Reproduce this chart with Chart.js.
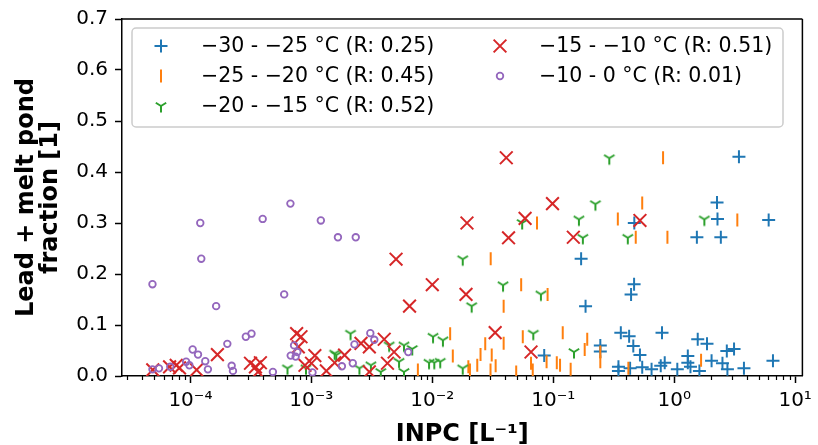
<!DOCTYPE html>
<html>
<head>
<meta charset="utf-8">
<script src="https://cdn.jsdelivr.net/npm/chart.js@4.4.1/dist/chart.umd.min.js"></script>
<style>
  html, body { margin: 0; padding: 0; background: #fff; }
  #wrap { width: 818px; height: 445px; }
</style>
</head>
<body>
<div id="wrap"><canvas id="chart"></canvas></div>
<script>
// series labels
const labels = [
  "\u221230 - \u221225 \u00b0C (R: 0.25)",
  "\u221225 - \u221220 \u00b0C (R: 0.45)",
  "\u221220 - \u221215 \u00b0C (R: 0.52)",
  "\u221215 - \u221210 \u00b0C (R: 0.51)",
  "\u221210 - 0 \u00b0C (R: 0.01)"
];
const colors = ["#1f77b4", "#ff7f0e", "#2ca02c", "#d62728", "#9467bd"];

// x tick labels (decades)
const xTickValues = [1e-4, 1e-3, 1e-2, 1e-1, 1, 10];
const xTickLabels = ["10\u207b\u2074", "10\u207b\u00b3", "10\u207b\u00b2", "10\u207b\u00b9", "10\u2070", "10\u00b9"];

// -30 to -25 C
const blueX = [3.43, 2.26, 2.28, 6.04, 1.54, 2.43, 0.170, 0.466, 0.440, 0.185, 0.468, 0.0842,
  0.362, 0.424, 0.459, 0.521, 0.793, 1.565, 1.867, 2.723, 3.125, 0.245, 0.245, 1.296,
  0.346, 0.346, 0.432, 0.544, 0.650, 0.774, 0.835, 1.061, 1.296, 1.363, 1.616, 2.037,
  2.506, 2.754, 3.773, 6.555];
const blueY = [0.430, 0.340, 0.308, 0.306, 0.272, 0.272, 0.230, 0.180, 0.160, 0.137, 0.300, 0.040,
  0.085, 0.078, 0.059, 0.041, 0.085, 0.072, 0.063, 0.049, 0.053, 0.060, 0.048, 0.039,
  0.018, 0.010, 0.015, 0.017, 0.013, 0.020, 0.026, 0.013, 0.026, 0.018, 0.010, 0.030,
  0.025, 0.013, 0.015, 0.030];

// -25 to -20 C
const orangeX = [0.01405, 0.01478, 0.0304, 0.0389, 0.0543, 0.0734, 0.0898, 0.0560, 0.0389, 0.0274,
  0.02505, 0.0310, 0.02354, 0.01987, 0.02048, 0.0303, 0.0334, 0.0076, 0.0494, 0.0655,
  0.0677, 0.0881, 0.1070, 0.1138, 0.1198, 0.1393, 0.809, 0.544, 0.342, 0.481,
  0.879, 3.326, 0.191, 0.182, 0.245, 0.245, 0.418, 1.668];
const orangeY = [0.083, 0.039, 0.230, 0.137, 0.179, 0.300, 0.160, 0.077, 0.064, 0.063,
  0.042, 0.041, 0.021, 0.018, 0.012, 0.012, 0.020, 0.012, 0.008, 0.025,
  0.012, 0.028, 0.026, 0.021, 0.085, 0.013, 0.428, 0.339, 0.308, 0.272,
  0.272, 0.306, 0.072, 0.052, 0.047, 0.028, 0.015, 0.031];

// -20 to -15 C
const greenX = [0.002108, 0.01014, 0.01224, 0.0094, 0.01039, 0.01163, 0.01784, 0.02115, 0.03844, 0.0553,
  0.0791, 0.0684, 0.01784, 0.005834, 0.006823, 0.004398, 0.001607, 0.002498, 0.003109, 0.003752,
  0.00531, 0.005834, 0.1483, 0.2905, 0.2232, 0.1629, 0.1756, 0.4134, 1.775, 0.0006346,
  0.0009027, 0.001559];
const greenY = [0.083, 0.077, 0.070, 0.026, 0.026, 0.028, 0.229, 0.137, 0.178, 0.300,
  0.160, 0.083, 0.015, 0.060, 0.053, 0.060, 0.041, 0.015, 0.021, 0.008,
  0.028, 0.008, 0.047, 0.427, 0.337, 0.307, 0.271, 0.271, 0.307, 0.015,
  0.015, 0.044];

// -15 to -10 C
const redX = [0.0409, 0.0986, 0.01935, 0.0427, 0.0585, 0.1466, 0.005017, 0.0100, 0.0190, 0.006485,
  0.0331, 0.0655, 0.521, 4.886e-5, 6.73e-5, 7.637e-5, 8.128e-5, 1.126e-4, 1.673e-4, 3.141e-4,
  3.451e-4, 3.792e-4, 3.624e-4, 7.558e-4, 8.21e-4, 7.806e-4, 8.858e-4, 1.069e-3, 1.003e-3, 1.331e-3,
  1.559e-3, 1.883e-3, 2.574e-3, 3.017e-3, 3.017e-3, 4.003e-3, 4.832e-3, 4.259e-3];
const redY = [0.428, 0.338, 0.300, 0.271, 0.309, 0.272, 0.229, 0.179, 0.160, 0.137,
  0.085, 0.047, 0.305, 0.012, 0.018, 0.021, 0.016, 0.012, 0.042, 0.025,
  0.018, 0.026, 0.008, 0.083, 0.077, 0.057, 0.021, 0.040, 0.025, 0.010,
  0.026, 0.041, 0.064, 0.057, 0.008, 0.072, 0.047, 0.025];

// -10 to 0 C
const purpleX = [4.858e-5, 1.207e-4, 1.230e-4, 1.633e-4, 3.960e-4, 6.714e-4, 5.962e-4, 1.198e-3, 1.659e-3, 2.329e-3,
  4.858e-5, 5.5e-5, 6.822e-5, 9.22e-5, 9.81e-5, 1.044e-4, 1.156e-4, 1.327e-4, 1.396e-4, 2.02e-4,
  2.194e-4, 2.249e-4, 2.874e-4, 3.2e-4, 4.809e-4, 6.752e-4, 7.197e-4, 7.418e-4, 7.659e-4, 1.022e-3,
  1.789e-3, 2.201e-3, 2.273e-3, 3.073e-3, 3.314e-3, 6.326e-3];
const purpleY = [0.180, 0.300, 0.230, 0.137, 0.308, 0.338, 0.160, 0.305, 0.272, 0.272,
  0.013, 0.015, 0.018, 0.028, 0.021, 0.052, 0.042, 0.029, 0.013, 0.063,
  0.020, 0.010, 0.077, 0.083, 0.008, 0.040, 0.060, 0.038, 0.047, 0.007,
  0.019, 0.025, 0.062, 0.084, 0.071, 0.047];

const pts = (xs, ys) => xs.map((x, i) => ({ x: x, y: ys[i] }));

// matplotlib "tri_down" marker as a little image
const makeTri = (color) => {
  const c = document.createElement("canvas");
  c.width = 18; c.height = 18;
  const g = c.getContext("2d");
  const r = 6.5;
  g.strokeStyle = color;
  g.lineWidth = 2;
  g.beginPath();
  g.moveTo(9, 9); g.lineTo(9, 9 + r);
  g.moveTo(9, 9); g.lineTo(9 + 0.8 * r, 9 - 0.5 * r);
  g.moveTo(9, 9); g.lineTo(9 - 0.8 * r, 9 - 0.5 * r);
  g.stroke();
  return c;
};
const triImg = makeTri(colors[2]);

const FONT = "'DejaVu Sans', 'Liberation Sans', sans-serif";

const datasets = [
  { label: labels[0], data: pts(blueX, blueY), pointStyle: "cross", pointRadius: 6.5,
    borderColor: colors[0], backgroundColor: colors[0], pointBorderWidth: 2, order: 5 },
  { label: labels[1], data: pts(orangeX, orangeY), pointStyle: "line", pointRotation: 90, pointRadius: 6.5,
    borderColor: colors[1], backgroundColor: colors[1], pointBorderWidth: 2, order: 4 },
  { label: labels[2], data: pts(greenX, greenY), pointStyle: triImg, pointRadius: 6,
    borderColor: colors[2], backgroundColor: colors[2], pointBorderWidth: 2, order: 3 },
  { label: labels[3], data: pts(redX, redY), pointStyle: "crossRot", pointRadius: 9,
    borderColor: colors[3], backgroundColor: colors[3], pointBorderWidth: 2, order: 2 },
  { label: labels[4], data: pts(purpleX, purpleY), pointStyle: "circle", pointRadius: 3.3,
    borderColor: colors[4], backgroundColor: "rgba(0,0,0,0)", pointBorderWidth: 1.8, order: 1 }
];

// top/right spines + minor log ticks
const framePlugin = {
  id: "frame",
  afterDraw(chart) {
    const { ctx, chartArea: a } = chart;
    const xs = chart.scales.x;
    ctx.save();
    ctx.strokeStyle = "#000";
    ctx.lineWidth = 1.5;
    ctx.beginPath();
    ctx.moveTo(a.left, a.top); ctx.lineTo(a.right, a.top);
    ctx.moveTo(a.right, a.top); ctx.lineTo(a.right, a.bottom);
    ctx.stroke();
    ctx.lineWidth = 1.2;
    ctx.beginPath();
    for (let n = -5; n <= 1; n++) {
      for (let k = 2; k <= 9; k++) {
        const v = k * Math.pow(10, n);
        if (v < xs.min || v > xs.max) continue;
        const px = Math.round(xs.getPixelForValue(v)) + 0.5;
        ctx.moveTo(px, a.bottom);
        ctx.lineTo(px, a.bottom + 4);
      }
    }
    ctx.stroke();
    ctx.restore();
  }
};

const drawMarker = (ctx, ds, x, y) => {
  ctx.save();
  ctx.strokeStyle = ds.borderColor;
  ctx.lineWidth = ds.pointBorderWidth;
  const r = ds.pointRadius;
  ctx.beginPath();
  if (ds.pointStyle === "cross") {
    ctx.moveTo(x - r, y); ctx.lineTo(x + r, y);
    ctx.moveTo(x, y - r); ctx.lineTo(x, y + r);
  } else if (ds.pointStyle === "crossRot") {
    const d = r * Math.SQRT1_2;
    ctx.moveTo(x - d, y - d); ctx.lineTo(x + d, y + d);
    ctx.moveTo(x + d, y - d); ctx.lineTo(x - d, y + d);
  } else if (ds.pointStyle === "line") {
    ctx.moveTo(x, y - r); ctx.lineTo(x, y + r);
  } else if (ds.pointStyle === "circle") {
    ctx.arc(x, y, r, 0, Math.PI * 2);
  } else {
    ctx.drawImage(ds.pointStyle, x - ds.pointStyle.width / 2, y - ds.pointStyle.height / 2);
  }
  ctx.stroke();
  ctx.restore();
};

// matplotlib style legend, two columns filled top to bottom
const legendPlugin = {
  id: "mplLegend",
  afterDraw(chart) {
    const ctx = chart.ctx;
    const box = { left: 132, top: 28, right: 783, bottom: 127 };
    ctx.save();
    ctx.fillStyle = "rgba(255,255,255,0.8)";
    ctx.strokeStyle = "#cccccc";
    ctx.lineWidth = 1.5;
    ctx.beginPath();
    ctx.roundRect(box.left, box.top, box.right - box.left, box.bottom - box.top, 4);
    ctx.fill();
    ctx.stroke();
    const cols = [{ mx: 161, tx: 201 }, { mx: 500, tx: 539 }];
    const rows = [46, 76, 106];
    ctx.font = "20.5px " + FONT;
    ctx.textBaseline = "middle";
    ctx.fillStyle = "#000";
    chart.data.datasets.forEach((ds, i) => {
      const c = cols[Math.floor(i / 3)];
      const y = rows[i % 3];
      drawMarker(ctx, ds, c.mx, y);
      ctx.fillText(ds.label, c.tx, y + 1);
    });
    ctx.restore();
  }
};

Chart.defaults.color = "#000";
Chart.defaults.font.family = FONT;

new Chart(document.getElementById("chart"), {
  type: "scatter",
  data: { datasets: datasets },
  options: {
    responsive: true,
    maintainAspectRatio: false,
    devicePixelRatio: 1,
    animation: false,
    layout: { padding: { left: 0, right: 9, top: 19, bottom: 0 } },
    plugins: {
      legend: { display: false },
      tooltip: { enabled: false }
    },
    scales: {
      x: {
        type: "logarithmic",
        min: 2.72e-5,
        max: 11.48,
        afterBuildTicks: (s) => { s.ticks = xTickValues.map((v) => ({ value: v, major: true })); },
        afterFit: (s) => { s.height = 69; },
        ticks: {
          autoSkip: false,
          maxRotation: 0,
          padding: 6,
          font: { size: 20 },
          callback: (v) => xTickLabels[xTickValues.indexOf(v)] || ""
        },
        grid: { drawOnChartArea: false, drawTicks: true, tickLength: 7, tickWidth: 1.5, tickColor: "#000" },
        border: { display: true, color: "#000", width: 1.5 },
        title: {
          display: true,
          text: "INPC [L\u207b\u00b9]",
          font: { size: 24, weight: "bold", lineHeight: 1.0 },
          padding: { top: 0, bottom: -2 }
        }
      },
      y: {
        min: 0,
        max: 0.7,
        afterFit: (s) => { s.width = 122; },
        ticks: {
          stepSize: 0.1,
          padding: 7,
          font: { size: 20 },
          callback: (v) => v.toFixed(1)
        },
        grid: { drawOnChartArea: false, drawTicks: true, tickLength: 7, tickWidth: 1.5, tickColor: "#000" },
        border: { display: true, color: "#000", width: 1.5 },
        title: {
          display: true,
          text: ["Lead + melt pond", "fraction [1]"],
          font: { size: 24, weight: "bold", lineHeight: 1.0 },
          padding: { top: 15, bottom: 0 }
        }
      }
    }
  },
  plugins: [framePlugin, legendPlugin]
});
</script>
</body>
</html>
